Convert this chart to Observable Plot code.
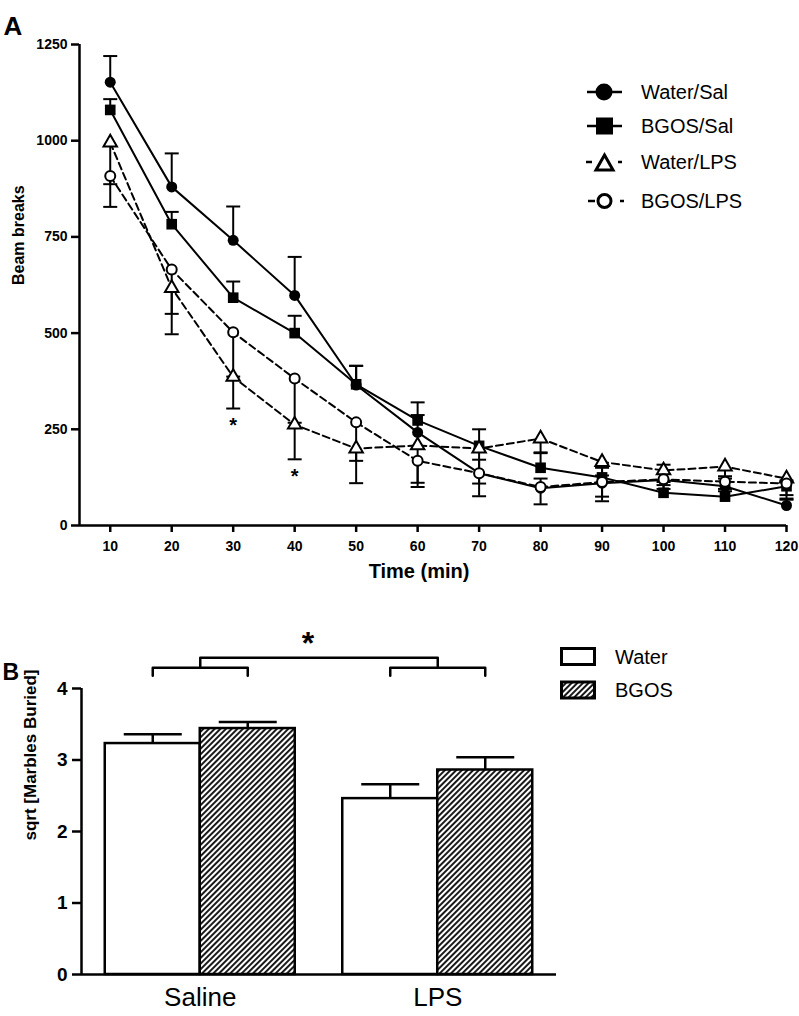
<!DOCTYPE html>
<html><head><meta charset="utf-8">
<script src="https://cdn.jsdelivr.net/npm/d3@7"></script>
<script src="https://cdn.jsdelivr.net/npm/@observablehq/plot@0.6"></script>
<style>
html,body{margin:0;padding:0;background:#fff;}
#root{position:relative;width:799px;height:1016px;overflow:hidden;font-family:"Liberation Sans",Arial,sans-serif;}
#root > svg{position:absolute;left:0;}
#root g[aria-label="y-axis tick label"], #plotA g[aria-label="x-axis tick label"]{font-weight:bold;}
#plotB g[aria-label="x-axis tick label"]{font-weight:normal;}
</style></head><body><div id="root"></div>
<script>
// ---------- Panel A data ----------
const times = [10,20,30,40,50,60,70,80,90,100,110,120];
const seriesNames = ["Water/Sal","BGOS/Sal","Water/LPS","BGOS/LPS"];
const waterSal    = [1152, 880, 741, 598, 365, 242, 136,  97, 110, 118, 102,  52];
const waterSalSem = [  68,  87,  88, 100,  50,  45,  35,  25,  20,  40,  20,  15];
const bgosSal     = [1080, 783, 592, 500, 367, 273, 207, 150, 125,  85,  75, 102];
const bgosSalSem  = [  28,  32,  42,  45,  48,  47,  43,  40,  25,  20,  20,  15];
const waterLps    = [ 995, 617, 386, 262, 200, 208, 200, 226, 165, 143, 153, 122];
const waterLpsSem = [ 108, 120,  82,  90,  90, 108,  91,  38,  90,  30,  25,  52];
const bgosLps     = [ 908, 665, 502, 382, 268, 168, 136, 100, 113, 120, 114, 109];
const bgosLpsSem  = [  80, 115, 115, 115, 100,  57,  60,  45,  50,  25,  25,  30];
const errDirection = [1, 1, -1, -1]; // saline groups: upward SEM, LPS groups: downward SEM
const yTicksA = [0, 250, 500, 750, 1000, 1250];
const sigTimes = [30, 40];

// ---------- Panel B data ----------
const conditions = ["Saline", "LPS"];
const treatments = ["Water", "BGOS"];
const waterMarbles    = [3.23, 2.46];
const waterMarblesSem = [0.13, 0.20];
const bgosMarbles     = [3.44, 2.86];
const bgosMarblesSem  = [0.09, 0.18];
const yTicksB = [0, 1, 2, 3, 4];

const font = '"Liberation Sans", Arial, sans-serif';
const root = document.getElementById("root");
const intFmt = d3.format("d");

// custom horizontal cap symbol (error bar caps)
const capSymbol = {draw(ctx, size) { const w = Math.sqrt(size / Math.PI); ctx.moveTo(-w, 0); ctx.lineTo(w, 0); }};

// ---------- Panel A ----------
const allValues = [waterSal, bgosSal, waterLps, bgosLps];
const allSem = [waterSalSem, bgosSalSem, waterLpsSem, bgosLpsSem];
const rowsA = seriesNames.flatMap((s, i) => times.map((t, j) => ({
  series: s, time: t, value: allValues[i][j],
  end: allValues[i][j] + errDirection[i] * allSem[i][j]
})));
const bySeries = s => rowsA.filter(d => d.series === s);
const sigRows = sigTimes.map(t => rowsA.find(d => d.series === "Water/LPS" && d.time === t));

const plotA = Plot.plot({
  width: 799, height: 600,
  marginTop: 44, marginBottom: 75, marginLeft: 79, marginRight: 13,
  x: {domain: [5, 120]},
  y: {domain: [0, 1250]},
  style: {fontFamily: font, background: "transparent", overflow: "visible", color: "black"},
  marks: [
    Plot.axisY({ticks: yTicksA, tickFormat: intFmt, tickSize: 8, tickPadding: 4, strokeWidth: 2.5, fontSize: 14, fontWeight: "bold", label: null}),
    Plot.axisX({ticks: times, tickFormat: intFmt, tickSize: 7, tickPadding: 9, strokeWidth: 2.5, fontSize: 14, fontWeight: "bold", label: null}),
    Plot.ruleX([5], {y1: 0, y2: 1250, stroke: "black", strokeWidth: 2.5}),
    Plot.ruleY([0], {x1: 5, x2: 120, stroke: "black", strokeWidth: 2.5}),
    Plot.line(rowsA.filter(d => d.series.endsWith("Sal")), {x: "time", y: "value", z: "series", stroke: "black", strokeWidth: 2}),
    Plot.line(rowsA.filter(d => d.series.endsWith("LPS")), {x: "time", y: "value", z: "series", stroke: "black", strokeWidth: 2, strokeDasharray: "7,4"}),
    Plot.ruleX(rowsA, {x: "time", y1: "value", y2: "end", stroke: "black", strokeWidth: 2}),
    Plot.dot(rowsA, {x: "time", y: "end", symbol: capSymbol, r: 7, stroke: "black", strokeWidth: 2, fill: "none"}),
    Plot.dot(bySeries("Water/Sal"), {x: "time", y: "value", symbol: "circle", r: 5.5, fill: "black"}),
    Plot.dot(bySeries("BGOS/Sal"), {x: "time", y: "value", symbol: "square", r: 6, fill: "black"}),
    Plot.dot(bySeries("Water/LPS"), {x: "time", y: "value", symbol: "triangle", r: 5, fill: "white", stroke: "black", strokeWidth: 2}),
    Plot.dot(bySeries("BGOS/LPS"), {x: "time", y: "value", symbol: "circle", r: 5, fill: "white", stroke: "black", strokeWidth: 2}),
    Plot.text(sigRows, {x: "time", y: "end", text: () => "*", dy: 17, fontSize: 20, fontWeight: "bold"}),
    Plot.text(["Beam breaks"], {text: d => d, frameAnchor: "left", rotate: -90, dx: -61, fontSize: 16, fontWeight: "bold"}),
    Plot.text(["Time (min)"], {text: d => d, frameAnchor: "bottom", dy: 52, dx: -14, fontSize: 20, fontWeight: "bold"}),
    Plot.text(["A"], {text: d => d, frameAnchor: "top-left", textAnchor: "start", dx: -76, dy: -28, fontSize: 26, fontWeight: "bold"})
  ]
});
plotA.id = "plotA";
plotA.style.top = "0px";
root.appendChild(plotA);

// legend A
const legA = d3.select(plotA).append("g").attr("font-family", font).attr("font-size", 20)
  .attr("font-weight", "normal").attr("text-anchor", "start");
const legRows = [
  {name: seriesNames[0], y: 92},
  {name: seriesNames[1], y: 126},
  {name: seriesNames[2], y: 162},
  {name: seriesNames[3], y: 201}
];
// row 1: solid line + filled circle
legA.append("line").attr("x1", 587).attr("x2", 622).attr("y1", legRows[0].y).attr("y2", legRows[0].y).attr("stroke", "black").attr("stroke-width", 2.5);
legA.append("circle").attr("cx", 604).attr("cy", legRows[0].y).attr("r", 8.5).attr("fill", "black");
// row 2: solid line + filled square
legA.append("line").attr("x1", 587).attr("x2", 622).attr("y1", legRows[1].y).attr("y2", legRows[1].y).attr("stroke", "black").attr("stroke-width", 2.5);
legA.append("rect").attr("x", 596).attr("y", legRows[1].y - 8.5).attr("width", 17).attr("height", 17).attr("fill", "black");
// row 3: dashed + open triangle
legA.append("line").attr("x1", 586).attr("x2", 592).attr("y1", legRows[2].y).attr("y2", legRows[2].y).attr("stroke", "black").attr("stroke-width", 2.5);
legA.append("line").attr("x1", 618).attr("x2", 622).attr("y1", legRows[2].y).attr("y2", legRows[2].y).attr("stroke", "black").attr("stroke-width", 2.5);
legA.append("path").attr("d", `M${604.5},${legRows[2].y - 7} L${613},${legRows[2].y + 8} L${596},${legRows[2].y + 8} Z`).attr("fill", "white").attr("stroke", "black").attr("stroke-width", 3);
// row 4: dashed + open circle
legA.append("line").attr("x1", 588).attr("x2", 595).attr("y1", legRows[3].y).attr("y2", legRows[3].y).attr("stroke", "black").attr("stroke-width", 2.5);
legA.append("line").attr("x1", 620).attr("x2", 624).attr("y1", legRows[3].y).attr("y2", legRows[3].y).attr("stroke", "black").attr("stroke-width", 2.5);
legA.append("circle").attr("cx", 604.5).attr("cy", legRows[3].y).attr("r", 6.5).attr("fill", "white").attr("stroke", "black").attr("stroke-width", 3);
legA.selectAll("text.leg").data(legRows).join("text").attr("class", "leg")
  .attr("x", 641).attr("y", d => d.y + 7).attr("fill", "black").text(d => d.name);

// ---------- Panel B ----------
const groupStep = 2.5;
const barRows = conditions.flatMap((c, g) => treatments.map((t, k) => {
  const v = k === 0 ? waterMarbles[g] : bgosMarbles[g];
  const s = k === 0 ? waterMarblesSem[g] : bgosMarblesSem[g];
  const x1 = g * groupStep + k;
  return {condition: c, treatment: t, x1, x2: x1 + 1, xc: x1 + 0.5, value: v, end: v + s};
}));
const groupCenters = conditions.map((c, g) => g * groupStep + 1);
const bracketLow = 4.18, bracketMid = 4.29, bracketTop = 4.43;
const bracketPts = [];
conditions.forEach((c, g) => {
  const w = g * groupStep + 0.5, b = g * groupStep + 1.5;
  bracketPts.push({id: c, x: w, y: bracketLow}, {id: c, x: w, y: bracketMid}, {id: c, x: b, y: bracketMid}, {id: c, x: b, y: bracketLow});
});
bracketPts.push({id: "top", x: groupCenters[0], y: bracketMid}, {id: "top", x: groupCenters[0], y: bracketTop},
                {id: "top", x: groupCenters[1], y: bracketTop}, {id: "top", x: groupCenters[1], y: bracketMid});

const xMinB = -0.25, xMaxB = 4.75;
const plotB = Plot.plot({
  width: 799, height: 426,
  marginTop: 98, marginBottom: 42, marginLeft: 81, marginRight: 243,
  x: {domain: [xMinB, xMaxB]},
  y: {domain: [0, 4]},
  style: {fontFamily: font, background: "transparent", overflow: "visible", color: "black"},
  marks: [
    Plot.rect(barRows.filter(d => d.treatment === "Water"), {x1: "x1", x2: "x2", y1: 0, y2: "value", fill: "white", stroke: "black", strokeWidth: 2.5}),
    Plot.rect(barRows.filter(d => d.treatment === "BGOS"), {x1: "x1", x2: "x2", y1: 0, y2: "value", fill: "url(#hatchB)", stroke: "black", strokeWidth: 2.5}),
    Plot.ruleX(barRows, {x: "xc", y1: "value", y2: "end", stroke: "black", strokeWidth: 2.5}),
    Plot.dot(barRows, {x: "xc", y: "end", symbol: capSymbol, r: 29, stroke: "black", strokeWidth: 2.5, fill: "none"}),
    Plot.ruleY([0], {x1: xMinB, x2: xMaxB, stroke: "black", strokeWidth: 2.5}),
    Plot.ruleX([xMinB], {y1: 0, y2: 4, stroke: "black", strokeWidth: 2.5}),
    Plot.axisY({ticks: yTicksB, tickFormat: intFmt, tickSize: 9, tickPadding: 5, strokeWidth: 2.5, fontSize: 19, fontWeight: "bold", label: null}),
    Plot.axisX({ticks: groupCenters, tickFormat: (d, i) => conditions[i], tickSize: 0, tickPadding: 13, fontSize: 26, label: null}),
    Plot.line(bracketPts, {x: "x", y: "y", z: "id", stroke: "black", strokeWidth: 2.5}),
    Plot.text(["*"], {text: d => d, x: (groupCenters[0] + groupCenters[1]) / 2, y: bracketTop, dx: -11, dy: -14, fontSize: 32, fontWeight: "bold"}),
    Plot.text(["sqrt [Marbles Buried]"], {text: d => d, frameAnchor: "left", rotate: -90, dx: -51, dy: 9, fontSize: 17, fontWeight: "bold"}),
    Plot.text(["B"], {text: d => d, frameAnchor: "top-left", textAnchor: "start", dx: -79, dy: -25, fontSize: 23, fontWeight: "bold"})
  ]
});
plotB.id = "plotB";
plotB.style.top = "590px";
root.appendChild(plotB);

// hatch pattern
const defs = d3.select(plotB).insert("defs", ":first-child");
const pat = defs.append("pattern").attr("id", "hatchB").attr("patternUnits", "userSpaceOnUse")
  .attr("width", 4).attr("height", 4).attr("patternTransform", "rotate(45)");
pat.append("rect").attr("width", 4).attr("height", 4).attr("fill", "white");
pat.append("line").attr("x1", 2).attr("x2", 2).attr("y1", 0).attr("y2", 4).attr("stroke", "black").attr("stroke-width", 1.8);

// legend B (svg coords = page - 590)
const legB = d3.select(plotB).append("g").attr("font-family", font).attr("font-size", 20)
  .attr("font-weight", "normal").attr("text-anchor", "start");
const legBRows = [{name: treatments[0], y: 66.5, fill: "white"}, {name: treatments[1], y: 100, fill: "url(#hatchB)"}];
legB.selectAll("rect").data(legBRows).join("rect")
  .attr("x", 561.5).attr("y", d => d.y - 8).attr("width", 33).attr("height", 16)
  .attr("fill", d => d.fill).attr("stroke", "black").attr("stroke-width", 3);
legB.selectAll("text").data(legBRows).join("text")
  .attr("x", 615).attr("y", d => d.y + 7).attr("fill", "black").text(d => d.name);
</script>
</body></html>
